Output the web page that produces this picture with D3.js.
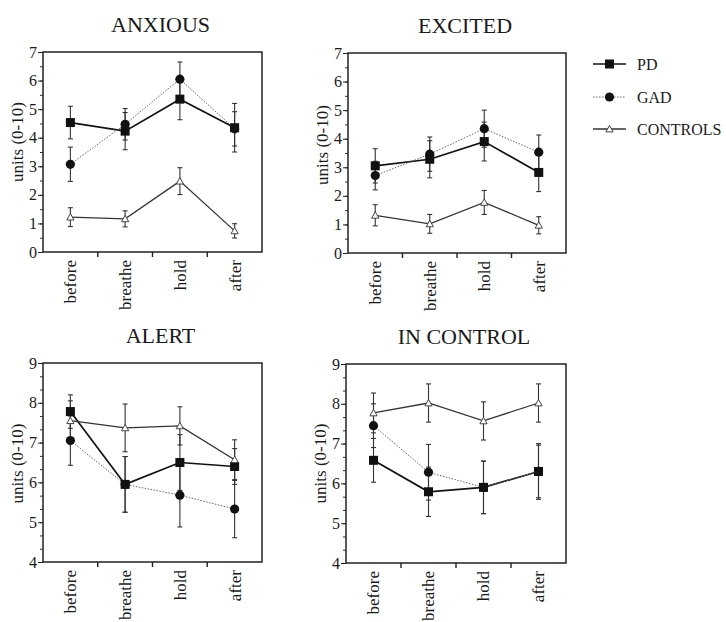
<!DOCTYPE html>
<html>
<head>
<meta charset="utf-8">
<script src="https://cdn.jsdelivr.net/npm/d3@7"></script>
<style>
  body { margin: 0; background: #fff; }
  svg text { font-family: "Liberation Serif", "Times New Roman", serif; }
</style>
</head>
<body>
<div id="chart"></div>
<script>
// Categories and groups
const categories = ["before", "breathe", "hold", "after"];
const groups = ["PD", "GAD", "CONTROLS"];

// ANXIOUS
const anxiousPD = [4.53, 4.23, 5.35, 4.35];
const anxiousPDErr = [0.57, 0.65, 0.72, 0.85];
const anxiousGAD = [3.07, 4.47, 6.05, 4.31];
const anxiousGADErr = [0.6, 0.55, 0.6, 0.6];
const anxiousCTRL = [1.22, 1.16, 2.48, 0.74];
const anxiousCTRLErr = [0.33, 0.28, 0.47, 0.25];

// EXCITED
const excitedPD = [3.05, 3.28, 3.9, 2.82];
const excitedPDErr = [0.6, 0.65, 0.68, 0.67];
const excitedGAD = [2.71, 3.46, 4.35, 3.53];
const excitedGADErr = [0.5, 0.6, 0.65, 0.6];
const excitedCTRL = [1.32, 1.02, 1.77, 0.97];
const excitedCTRLErr = [0.37, 0.33, 0.42, 0.3];

// ALERT
const alertPD = [7.78, 5.95, 6.5, 6.4];
const alertPDErr = [0.42, 0.7, 0.7, 0.45];
const alertGAD = [7.05, 5.95, 5.68, 5.33];
const alertGADErr = [0.62, 0.7, 0.8, 0.72];
const alertCTRL = [7.55, 7.37, 7.42, 6.57];
const alertCTRLErr = [0.5, 0.6, 0.48, 0.5];

// IN CONTROL
const controlPD = [6.58, 5.79, 5.9, 6.3];
const controlPDErr = [0.55, 0.62, 0.66, 0.66];
const controlGAD = [7.45, 6.28, 5.9, 6.3];
const controlGADErr = [0.55, 0.7, 0.66, 0.7];
const controlCTRL = [7.77, 8.02, 7.57, 8.02];
const controlCTRLErr = [0.5, 0.48, 0.48, 0.48];

const width = 726;
const height = 622;
const serif = "Liberation Serif, Times New Roman, serif";

const svg = d3.select("#chart")
    .append("svg")
    .attr("width", width)
    .attr("height", height);

svg.append("rect").attr("width", width).attr("height", height).attr("fill", "#fff");

// Panel layout
const panels = [
    {title: "ANXIOUS", x0: 43, x1: 262, y0: 52, y1: 252, domain: [0, 7], minor: 0.5, labelShift: -10,
     series: [[anxiousPD, anxiousPDErr], [anxiousGAD, anxiousGADErr], [anxiousCTRL, anxiousCTRLErr]]},
    {title: "EXCITED", x0: 348, x1: 566, y0: 53, y1: 253, domain: [0, 7], minor: 0.5, labelShift: -8,
     series: [[excitedPD, excitedPDErr], [excitedGAD, excitedGADErr], [excitedCTRL, excitedCTRLErr]]},
    {title: "ALERT", x0: 43, x1: 262, y0: 363, y1: 562, domain: [4, 9], minor: 1 / 3, labelShift: 1,
     series: [[alertPD, alertPDErr], [alertGAD, alertGADErr], [alertCTRL, alertCTRLErr]]},
    {title: "IN CONTROL", x0: 346, x1: 566, y0: 364, y1: 563, domain: [4, 9], minor: 1 / 3, labelShift: 0,
     series: [[controlPD, controlPDErr], [controlGAD, controlGADErr], [controlCTRL, controlCTRLErr]]}
];

// Styles per group
const styles = {
    PD: {stroke: "#111", width: 1.7, dash: null},
    GAD: {stroke: "#666", width: 1, dash: "1.5,1.5"},
    CONTROLS: {stroke: "#333", width: 1.3, dash: null}
};

function drawMarker(sel, group, x, y) {
    if (group === "PD") {
        sel.append("rect")
            .attr("x", x - 4.5).attr("y", y - 4.5)
            .attr("width", 9).attr("height", 9)
            .attr("fill", "#111");
    } else if (group === "GAD") {
        sel.append("circle")
            .attr("cx", x).attr("cy", y).attr("r", 4.6)
            .attr("fill", "#111");
    } else {
        const s = 3.6;
        sel.append("path")
            .attr("d", `M${x},${y - s}L${x + s},${y + s * 0.8}L${x - s},${y + s * 0.8}Z`)
            .attr("fill", "#fff")
            .attr("stroke", "#444")
            .attr("stroke-width", 1);
    }
}

panels.forEach(p => {
    const g = svg.append("g");

    const x = d3.scaleBand()
        .domain(categories)
        .range([p.x0, p.x1]);

    const y = d3.scaleLinear()
        .domain(p.domain)
        .range([p.y1, p.y0]);

    // Title
    g.append("text")
        .attr("x", (p.x0 + p.x1) / 2 + 8)
        .attr("y", p.y0 - 20)
        .attr("text-anchor", "middle")
        .attr("font-family", serif)
        .attr("font-size", 22)
        .attr("fill", "#1a1a1a")
        .text(p.title);

    // Y label
    g.append("text")
        .attr("transform", `translate(${p.x0 - 20},${(p.y0 + p.y1) / 2 + p.labelShift}) rotate(-90)`)
        .attr("text-anchor", "middle")
        .attr("font-family", serif)
        .attr("font-size", 17)
        .attr("fill", "#1a1a1a")
        .text("units (0-10)");

    // Minor ticks on y axis
    const minorTicks = d3.range(p.domain[0], p.domain[1] + 1e-6, p.minor);
    g.append("g")
        .attr("transform", `translate(${p.x0},0)`)
        .call(d3.axisLeft(y).tickValues(minorTicks).tickSize(3).tickFormat(""))
        .call(a => a.select(".domain").remove())
        .selectAll("line").attr("stroke", "#333");

    // Major y axis
    const yAxis = g.append("g")
        .attr("transform", `translate(${p.x0},0)`)
        .call(d3.axisLeft(y).ticks(p.domain[1] - p.domain[0]).tickSize(5).tickPadding(1).tickFormat(d3.format("d")))
        .attr("font-family", serif);
    yAxis.selectAll("text").attr("font-size", 16).attr("font-family", serif).attr("fill", "#1a1a1a");
    yAxis.select(".domain").remove();
    yAxis.selectAll("line").attr("stroke", "#222");

    // X axis: ticks at band boundaries
    const boundaries = categories.slice(1).map(c => x(c));
    g.selectAll(".xtick")
        .data(boundaries)
        .enter()
        .append("line")
        .attr("x1", d => d).attr("x2", d => d)
        .attr("y1", p.y1).attr("y2", p.y1 + 5)
        .attr("stroke", "#222")
        .attr("stroke-width", 1.4);

    g.selectAll(".xlabel")
        .data(categories)
        .enter()
        .append("text")
        .attr("transform", d => `translate(${x(d) + x.bandwidth() / 2},${p.y1 + 8}) rotate(-90)`)
        .attr("dy", "0.35em")
        .attr("text-anchor", "end")
        .attr("font-family", serif)
        .attr("font-size", 17)
        .attr("fill", "#1a1a1a")
        .text(d => d);

    // Frame
    g.append("rect")
        .attr("x", p.x0).attr("y", p.y0)
        .attr("width", p.x1 - p.x0).attr("height", p.y1 - p.y0)
        .attr("fill", "none")
        .attr("stroke", "#222")
        .attr("stroke-width", 1.5);

    const cx = c => x(c) + x.bandwidth() / 2;

    // Error bars
    p.series.forEach(([vals, errs]) => {
        categories.forEach((c, i) => {
            const xp = cx(c);
            const top = y(vals[i] + errs[i]);
            const bot = y(vals[i] - errs[i]);
            g.append("line")
                .attr("x1", xp).attr("x2", xp).attr("y1", top).attr("y2", bot)
                .attr("stroke", "#333").attr("stroke-width", 1.1);
            [top, bot].forEach(yy => {
                g.append("line")
                    .attr("x1", xp - 2.5).attr("x2", xp + 2.5).attr("y1", yy).attr("y2", yy)
                    .attr("stroke", "#333").attr("stroke-width", 1.1);
            });
        });
    });

    // Lines
    const line = d3.line()
        .x((d, i) => cx(categories[i]))
        .y(d => y(d));

    p.series.forEach(([vals], gi) => {
        const st = styles[groups[gi]];
        g.append("path")
            .datum(vals)
            .attr("d", line)
            .attr("fill", "none")
            .attr("stroke", st.stroke)
            .attr("stroke-width", st.width)
            .attr("stroke-dasharray", st.dash);
    });

    // Markers
    p.series.forEach(([vals], gi) => {
        categories.forEach((c, i) => drawMarker(g, groups[gi], cx(c), y(vals[i])));
    });
});

// Legend
const legendY = [64, 97, 129];
const legend = svg.append("g");
groups.forEach((grp, i) => {
    const st = styles[grp];
    legend.append("line")
        .attr("x1", 593).attr("x2", 626)
        .attr("y1", legendY[i]).attr("y2", legendY[i])
        .attr("stroke", st.stroke)
        .attr("stroke-width", st.width)
        .attr("stroke-dasharray", st.dash);
    drawMarker(legend, grp, 609.5, legendY[i]);
    legend.append("text")
        .attr("x", 637)
        .attr("y", legendY[i] + 5.5)
        .attr("font-family", serif)
        .attr("font-size", 16)
        .attr("fill", "#1a1a1a")
        .text(grp);
});
</script>
</body>
</html>
